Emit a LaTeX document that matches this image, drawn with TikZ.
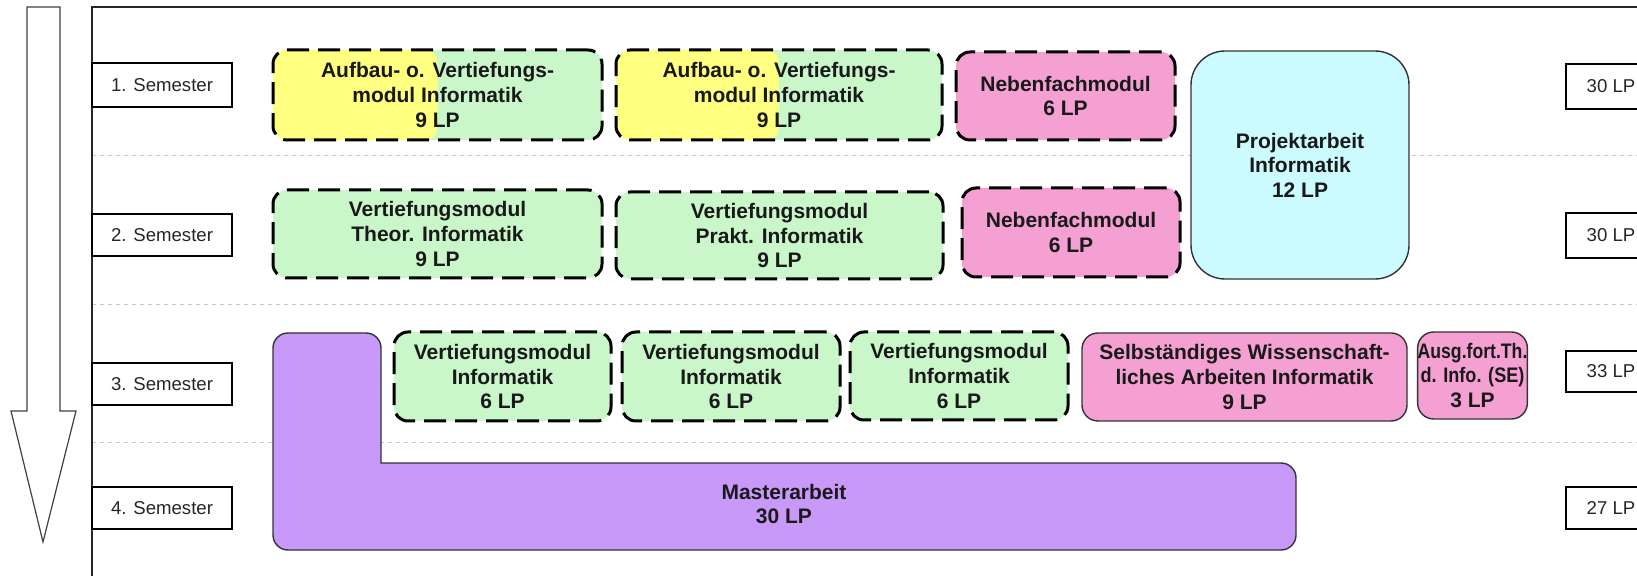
\documentclass[tikz,border=0pt]{standalone}
\usepackage{fontspec}
\setmainfont{Liberation Sans}

\definecolor{yellowfill}{HTML}{FFFF80}
\definecolor{greenfill}{HTML}{C9F7C9}
\definecolor{pinkfill}{HTML}{F4A0D2}
\definecolor{cyanfill}{HTML}{CCFBFF}
\definecolor{purplefill}{HTML}{C999FA}
\definecolor{rulegray}{HTML}{C8C8C8}

\begin{document}
\begin{tikzpicture}[x=0.5pt,y=-0.5pt,
  modtext/.style={rectangle, align=center, inner sep=0pt,
    font=\fontsize{10.5}{12.3}\selectfont\bfseries, text=black!90},
  electivebox/.style={modtext, rounded corners=7pt, draw=black,
    line width=1.5pt, dash pattern=on 11pt off 4.5pt},
  fixedbox/.style={modtext, rounded corners=8pt, draw=black!80, line width=0.7pt},
  halfyellow/.style={path picture={\fill[yellowfill, rounded corners=6pt]
    ([xshift=-10pt]path picture bounding box.south west) rectangle (path picture bounding box.north);}},
  sembox/.style={rectangle, draw=black, line width=0.7pt, fill=white,
    inner sep=0pt, font=\fontsize{9.3}{11}\selectfont, text=black!85},
  sepline/.style={rulegray, line width=0.5pt, dash pattern=on 2pt off 2pt},
  frameline/.style={black!85, line width=0.7pt},
]
% page
\fill[white] (0,0) rectangle (1637,576);
\useasboundingbox (0,0) rectangle (1637,576);

% semester separators
\draw[sepline] (92,156) -- (1637,156);
\draw[sepline] (92,305) -- (1637,305);
\draw[sepline] (92,443) -- (1637,443);

% outer frame
\draw[frameline] (92,576) -- (92,7) -- (1637,7);

% time arrow
\draw[black!75, line width=0.6pt, fill=white]
  (27,7) -- (60,7) -- (60,411) -- (76,411) -- (43,542) -- (11,411) -- (27,411) -- cycle;

% semester labels
\node[sembox, minimum width=70pt, minimum height=22pt] (s1) at (162,85) {1. Semester};
\node[sembox, minimum width=70pt, minimum height=21pt] (s2) at (162,235) {2. Semester};
\node[sembox, minimum width=70pt, minimum height=21pt] (s3) at (162,384) {3. Semester};
\node[sembox, minimum width=70pt, minimum height=21pt] (s4) at (162,508) {4. Semester};

% credit points per semester
\node[sembox, minimum width=45pt, minimum height=22.5pt] (lp1) at (1611,86.5) {30 LP};
\node[sembox, minimum width=45pt, minimum height=22.5pt] (lp2) at (1611,235.5) {30 LP};
\node[sembox, minimum width=45pt, minimum height=20.5pt] (lp3) at (1611,371.5) {33 LP};
\node[sembox, minimum width=45pt, minimum height=21pt] (lp4) at (1611,508) {27 LP};

% 1. semester
\node[electivebox, fill=greenfill, halfyellow, minimum width=164.5pt, minimum height=45pt]
  (a1) at (437.5,95) {Aufbau- o. Vertiefungs-\\modul Informatik\\9 LP};
\node[electivebox, fill=greenfill, halfyellow, minimum width=163pt, minimum height=45pt]
  (a2) at (779,95) {Aufbau- o. Vertiefungs-\\modul Informatik\\9 LP};
\node[electivebox, fill=pinkfill, minimum width=109.5pt, minimum height=44pt]
  (n1) at (1065.5,96) {Nebenfachmodul\\6 LP};

% project spanning semesters 1 and 2
\node[fixedbox, rounded corners=17pt, fill=cyanfill, minimum width=109pt, minimum height=114pt]
  (proj) at (1300,165) {Projektarbeit\\Informatik\\12 LP};

% 2. semester
\node[electivebox, fill=greenfill, minimum width=164.5pt, minimum height=44pt]
  (theo) at (437.5,234) {Vertiefungsmodul\\Theor. Informatik\\9 LP};
\node[electivebox, fill=greenfill, minimum width=163.5pt, minimum height=43.5pt]
  (prak) at (779.5,235.5) {Vertiefungsmodul\\Prakt. Informatik\\9 LP};
\node[electivebox, fill=pinkfill, minimum width=109pt, minimum height=44.5pt]
  (n2) at (1071,232.5) {Nebenfachmodul\\6 LP};

% master thesis spanning semesters 3 and 4
\draw[black!80, line width=0.7pt, fill=purplefill]
  (136.5pt,-174pt) -- (136.5pt,-267.5pt) arc[start angle=180, end angle=270, radius=7.5pt]
  -- (640.5pt,-275pt) arc[start angle=270, end angle=360, radius=7.5pt]
  -- (648pt,-239pt) arc[start angle=0, end angle=90, radius=7.5pt]
  -- (190.5pt,-231.5pt) -- (190.5pt,-174pt) arc[start angle=0, end angle=90, radius=7.5pt]
  -- (144pt,-166.5pt) arc[start angle=90, end angle=180, radius=7.5pt] -- cycle;
\node[modtext] (master) at (784,504) {Masterarbeit\\30 LP};

% 3. semester
\node[electivebox, fill=greenfill, minimum width=108.5pt, minimum height=44.5pt]
  (v1) at (502.5,376.5) {Vertiefungsmodul\\Informatik\\6 LP};
\node[electivebox, fill=greenfill, minimum width=109pt, minimum height=44.5pt]
  (v2) at (731,376.5) {Vertiefungsmodul\\Informatik\\6 LP};
\node[electivebox, fill=greenfill, minimum width=109pt, minimum height=44pt]
  (v3) at (959,376) {Vertiefungsmodul\\Informatik\\6 LP};
\node[fixedbox, fill=pinkfill, minimum width=162.5pt, minimum height=44pt]
  (swa) at (1244.5,377) {Selbständiges Wissenschaft-\\liches Arbeiten Informatik\\9 LP};
\node[fixedbox, fill=pinkfill, minimum width=54.5pt, minimum height=43.5pt]
  (ausg) at (1472.5,375.5)
  {\scalebox{0.84}[1]{Ausg.fort.Th.}\\\scalebox{0.86}[1]{d. Info. (SE)}\\3 LP};
\end{tikzpicture}
\end{document}
